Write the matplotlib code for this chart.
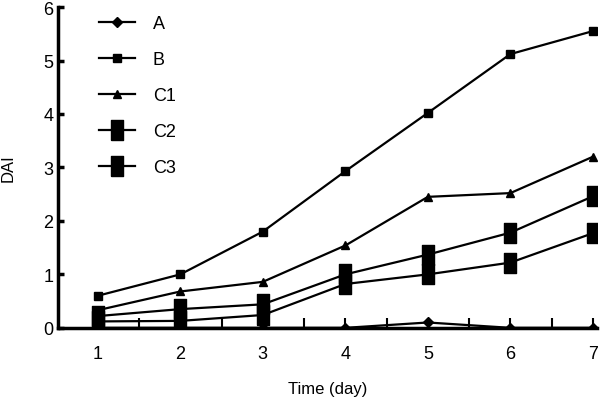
import numpy as np
import matplotlib.pyplot as plt
from matplotlib.ticker import MultipleLocator

plt.rcParams['font.family'] = ['Liberation Sans', 'DejaVu Sans']

days = [1, 2, 3, 4, 5, 6, 7]
dai_A = [0.0, 0.0, 0.0, 0.0, 0.1, 0.0, 0.0]
dai_B = [0.6, 1.0, 1.8, 2.93, 4.02, 5.12, 5.55]
dai_C1 = [0.33, 0.68, 0.86, 1.54, 2.45, 2.52, 3.2]
dai_C2 = [0.22, 0.35, 0.44, 1.0, 1.37, 1.78, 2.46]
dai_C3 = [0.12, 0.13, 0.24, 0.82, 1.0, 1.22, 1.77]

# tall rectangle marker for C2 / C3
rect = [(-0.55, -1), (0.55, -1), (0.55, 1), (-0.55, 1), (-0.55, -1)]

fig = plt.figure(figsize=(6, 4.02), dpi=100)
ax = fig.add_axes([0.097, 0.182, 0.898, 0.798])

ax.plot(days, dai_A, color='black', lw=1.6, marker='D', ms=5, label='A')
ax.plot(days, dai_B, color='black', lw=1.6, marker='s', ms=6, label='B')
ax.plot(days, dai_C1, color='black', lw=1.6, marker='^', ms=6, label='C1')
ax.plot(days, dai_C2, color='black', lw=1.6, marker=rect, ms=15, label='C2')
ax.plot(days, dai_C3, color='black', lw=1.6, marker=rect, ms=15, label='C3')

ax.set_xlim(0.52, 7.05)
ax.set_ylim(0, 6)
ax.xaxis.set_major_locator(MultipleLocator(1))
ax.xaxis.set_minor_locator(MultipleLocator(0.5))
ax.yaxis.set_major_locator(MultipleLocator(1))

ax.spines['top'].set_visible(False)
ax.spines['right'].set_visible(False)
ax.spines['left'].set_linewidth(2.5)
ax.spines['bottom'].set_linewidth(2.5)
ax.tick_params(axis='x', which='both', direction='in', length=7, width=1.5, labelsize=13, pad=12)
ax.tick_params(axis='y', direction='in', length=4, width=2.5, labelsize=13)

ax.set_xlabel('Time (day)', fontsize=12, labelpad=14)
ax.set_ylabel('DAI', fontsize=12, labelpad=20)

ax.legend(loc='upper left', bbox_to_anchor=(0.045, 1.025), frameon=False, fontsize=13,
          handlelength=2.0, labelspacing=1.05, handletextpad=1.0)

plt.savefig('out.png', dpi=100)
